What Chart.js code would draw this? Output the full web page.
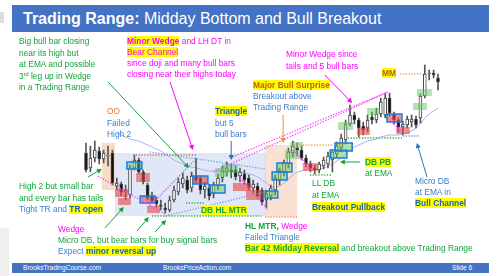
<!DOCTYPE html>
<html>
<head>
<meta charset="utf-8">
<script src="https://cdn.jsdelivr.net/npm/chart.js@4.4.1/dist/chart.umd.min.js"></script>
<style>
  body { margin: 0; background: #fff; width: 499px; height: 276px; overflow: hidden; position: relative;
         font-family: "Liberation Sans", Arial, sans-serif; }
  #chart { position: absolute; left: 0; top: 0; }
  .t { position: absolute; white-space: nowrap; font-size: 8.4px; line-height: 11.5px; }
  .b { font-weight: bold; }
  .hl { background: #ffff00; }
  .g { color: #12a43c; }
  .m { color: #ff00ff; }
  .bl { color: #3a80d0; }
  .db { color: #1a62b6; }
  .or { color: #e07a3a; }
  .br { color: #c0600c; }
  sup { font-size: 5.5px; line-height: 0; vertical-align: 3px; }
  #title { position: absolute; left: 12px; top: 5px; width: 477px; height: 27px; background: #4472c4;
           color: #fff; font-size: 16px; line-height: 28px; box-sizing: border-box; padding-left: 11px; white-space: nowrap; }
  #footer { position: absolute; left: 12px; top: 263px; width: 477px; height: 10px; background: #4472c4; }
  .f { position: absolute; top: 263px; color: #fff; font-size: 6.6px; line-height: 10px; white-space: nowrap; }
</style>
</head>
<body>
<canvas id="chart" width="499" height="276"></canvas>

<div style="position:absolute;left:0;top:12px;width:4px;height:11px;background:#ddd"></div>
<div style="position:absolute;left:0;top:228px;width:9px;height:48px;background:#f0f0f0"></div>
<div id="title"><b>Trading Range:</b> Midday Bottom and Bull Breakout</div>
<div id="footer"></div>
<div class="f" style="left:23px">BrooksTradingCourse.com</div>
<div class="f" style="left:163px">BrooksPriceAction.com</div>
<div class="f" style="left:452px">Slide 6</div>

<div class="t g" style="left:19px;top:36px;line-height:11.6px">Big bull bar closing<br>near its high but<br>at EMA and possible<br>3<sup>rd</sup> leg up in Wedge<br>in a Trading Range</div>
<div class="t m" style="left:127px;top:35.5px;line-height:11.1px"><span class="hl b">Minor Wedge</span> and LH DT in<br><span class="hl">Bear Channel</span><br>since doji and many bull bars<br>closing near their highs today</div>
<div class="t" style="left:107px;top:106px;line-height:11.5px"><span class="or">OO</span><br><span class="bl">Failed<br>High 2</span></div>
<div class="t bl" style="left:215px;top:106px;line-height:11.5px"><span class="hl b db">Triangle</span><br>but 5<br>bull bars</div>
<div class="t m" style="left:286px;top:48px;line-height:12px">Minor Wedge since<br>tails and 5 bull bars</div>
<div class="t" style="left:253px;top:80px;line-height:11px"><span class="hl b br">Major Bull Surprise</span><br><span class="bl">Breakout above<br>Trading Range</span></div>
<div class="t b br" style="left:382px;top:68px"><span class="hl">MM</span></div>
<div class="t g" style="left:19px;top:181px;line-height:11.5px">High 2 but small bar<br>and every bar has tails<br><span class="bl">Tight TR and </span><span class="hl b db">TR open</span></div>
<div class="t" style="left:58px;top:224px;line-height:11px"><span class="m">Wedge</span><br><span class="g">Micro DB, but bear bars for buy signal bars</span><br><span class="bl">Expect </span><span class="hl b db">minor reversal up</span></div>
<div class="t b g" style="left:201px;top:205px"><span class="hl">DB HL MTR</span></div>
<div class="t" style="left:245px;top:221px;line-height:11px"><span class="b g">HL MTR, </span><span class="m">Wedge</span><br><span class="bl">Failed Triangle</span><br><span class="hl b g">Bar 42 Midday Reversal</span><span class="g"> and breakout above Trading Range</span></div>
<div class="t g" style="left:312px;top:177px;line-height:12px">LL DB<br>at EMA<br><span class="hl b db">Breakout Pullback</span></div>
<div class="t g" style="left:365px;top:157px;line-height:11px"><span class="hl b">DB PB</span><br>at EMA</div>
<div class="t bl" style="left:415px;top:176px;line-height:11px">Micro DB<br>at EMA in<br><span class="hl b db">Bull Channel</span></div>

<script>
// 5 minute bars of the day (price units are arbitrary points)
const opens  = [147,132,142,149,141,144,147,114,116,108,105,132,140,128,115,104,100,95,92,90,
                100,108,116,120,112,124,122,110,112,106,114,122,128,130,130,124,126,122,112,114,
                110,100,104,110,120,128,136,147,152,150,142,136,132,130,134,136,140,146,152,160,
                176,185,180,174,172,183,180,186,185,202,186,180,173,175,178,181,182,204,226,227,222];
const highs  = [157,154,159,153,150,154,150,122,118,115,135,145,142,130,117,108,103,100,97,104,
                114,122,127,124,128,142,124,118,116,118,126,134,138,136,134,132,130,125,120,117,
                112,110,115,125,132,140,152,159,157,154,145,139,135,138,143,148,150,158,166,180,
                195,188,182,178,185,188,192,202,207,207,188,182,179,184,185,184,206,235,230,230,226];
const lows   = [128,128,138,136,137,134,115,110,104,100,102,130,126,116,100,97,93,90,87,88,
                98,105,112,107,108,117,106,102,100,102,110,118,124,122,120,118,116,110,107,102,
                95,92,100,105,115,124,132,143,144,140,133,128,126,127,131,132,128,142,148,156,
                174,176,163,165,168,176,177,183,182,184,176,168,165,172,173,172,177,202,220,222,210];
const closes = [130,142,150,141,147,145,117,117,108,110,132,140,128,118,102,99,96,94,90,100,
                110,118,122,110,124,120,110,114,104,115,122,129,132,128,123,128,120,112,116,104,
                98,106,112,122,130,138,148,154,150,142,136,131,130,136,140,144,148,154,162,176,
                185,180,172,170,180,180,186,198,202,187,180,173,176,181,181,175,204,226,227,225,218];
// 20 bar EMA as drawn on the chart (starts after the open)
const emaValues = [null,null,null,null,null,null,null,167,165,163,161,160,159,157,155,153,151,149,146,143,
                140,138,136,134,133,132,131,130,129,129,129,129,129,129,128,128,127,126,125,123,
                120,117,114,113,114,117,121,125,128,129,130,130,130,131,132,134,136,139,142,146,
                150,153,155,157,159,160,161,163,164,165,165,165,166,167,169,172,176,182,186,189,192];
const barLabels = opens.map((o, i) => String(i + 1));

// annotation layers, in bar number (0 based) and price
const zones = [
  [6.6, 40.9, 147, 84, 'rgba(185,198,238,0.42)'],
  [3.6, 6.6, 157, 110, 'rgba(240,185,150,0.5)'],
  [40.7, 48.0, 155, 83, 'rgba(240,185,150,0.42)']
];
const boxes = [
  [6.6, 9.5, 111, 103, 'r'], [7.3, 10.2, 102, 95, 'r'], [9.3, 12.7, 138, 131, 'bg'],
  [11.4, 14.5, 127, 118, 'r'], [12.3, 15.7, 104, 97, 'br'], [13.9, 16.8, 94, 87, 'r'],
  [24.3, 27.7, 124, 116, 'br'], [28.2, 31.6, 115, 107, 'bg'], [29.3, 32.3, 132, 123, 'g'],
  [30.9, 34.5, 136, 127, 'g'], [33.4, 37.5, 117, 109, 'r'], [36.4, 40.2, 110, 100, 'r'],
  [40.7, 43.6, 109, 102, 'bg'], [42.3, 45.7, 128, 120, 'bg'], [43.4, 46.8, 137, 128, 'bg'],
  [45.2, 48.6, 150, 141, 'g'], [46.4, 49.3, 158, 152, 'g'], [49.3, 52.7, 137, 129, 'r'],
  [55.5, 59.3, 150, 142, 'bg'], [56.6, 60.5, 157, 149, 'bg'], [57.3, 60.7, 178, 170, 'g'],
  [61.6, 64.5, 172, 165, 'r'], [63.9, 66.8, 192, 185, 'g'], [68.4, 71.8, 186, 178, 'br'],
  [70.5, 73.6, 173, 166, 'r'], [74.3, 77.5, 197, 190, 'g'], [75.2, 78.6, 211, 204, 'g']
];
const dottedLines = [
  [10.7, 145, 25.2, 145, '#f06060'], [15, 84, 40, 84, '#3cb043'], [22.7, 97, 26.8, 97, '#3cb043'],
  [40.7, 83, 48, 83, '#f0a060'], [48, 155, 56.1, 155, '#f0a060'], [50.9, 125, 55.9, 125, '#3cb043'],
  [59.5, 162, 71.8, 162, '#3cb043'], [72, 164, 75.9, 164, '#5a9ad8'], [71.4, 226, 76.6, 226, '#f0a060'],
  [14.5, 148, 40.7, 131, '#6aa8e0'], [18, 84, 40.7, 108, '#6aa8e0'],
  [2.7, 124, 18, 86, '#ff40ff'], [14.1, 92, 25.2, 142, '#ff40ff'], [35, 122, 41.4, 90, '#ff40ff'],
  [28.9, 128, 68.6, 208, '#ff40ff'], [32.7, 142, 68.6, 208, '#ff40ff'],
  [47, 150, 51.4, 130, '#ff40ff'], [69.5, 178, 71.8, 168, '#ff40ff']
];
const arrows = [
  [5, 218, 23.4, 132, '#12a43c'], [19.1, 218, 24.3, 150, '#ff00ff'], [33, 159, 33, 140, '#2a70c0'],
  [0.45, 123, 3.6, 131, '#12a43c'], [4.3, 72, 8.6, 93, '#12a43c'], [11.6, 69, 14.3, 83, '#12a43c'],
  [15.7, 68, 18.2, 80, '#12a43c'], [44.8, 185, 44.8, 157, '#f0902a'], [54.3, 225, 60.5, 197, '#ff00ff'],
  [62.3, 138, 57.7, 138, '#12a43c'], [77.5, 123, 75.2, 157, '#2a70c0']
];

const annotationLayer = {
  id: 'annotationLayer',
  beforeDatasetsDraw(chart) {
    const { ctx, scales: { x, y } } = chart;
    ctx.save();
    zones.forEach(([i1, i2, p1, p2, c]) => {
      ctx.fillStyle = c;
      ctx.fillRect(x.getPixelForValue(i1), y.getPixelForValue(p1),
        x.getPixelForValue(i2) - x.getPixelForValue(i1), y.getPixelForValue(p2) - y.getPixelForValue(p1));
    });
    ctx.restore();
  },
  afterDatasetsDraw(chart) {
    const { ctx, scales: { x, y } } = chart;
    ctx.save();
    boxes.forEach(([i1, i2, p1, p2, k]) => {
      const x1 = x.getPixelForValue(i1), x2 = x.getPixelForValue(i2);
      const y1 = y.getPixelForValue(p1), y2 = y.getPixelForValue(p2);
      ctx.fillStyle = k.endsWith('g') ? 'rgba(100,200,100,0.5)' : 'rgba(232,70,70,0.6)';
      ctx.fillRect(x1, y1, x2 - x1, y2 - y1);
      if (k[0] === 'b' && k.length === 2) {
        ctx.strokeStyle = '#1a7ee0';
        ctx.lineWidth = 1.5;
        ctx.strokeRect(x1, y1, x2 - x1, y2 - y1);
      }
    });
    ctx.lineWidth = 1.3;
    ctx.setLineDash([1.3, 1.5]);
    dottedLines.forEach(([i1, p1, i2, p2, c]) => {
      ctx.strokeStyle = c;
      ctx.beginPath();
      ctx.moveTo(x.getPixelForValue(i1), y.getPixelForValue(p1));
      ctx.lineTo(x.getPixelForValue(i2), y.getPixelForValue(p2));
      ctx.stroke();
    });
    ctx.setLineDash([]);
    ctx.lineWidth = 1;
    arrows.forEach(([i1, p1, i2, p2, c]) => {
      const ax = x.getPixelForValue(i1), ay = y.getPixelForValue(p1);
      const bx = x.getPixelForValue(i2), by = y.getPixelForValue(p2);
      const a = Math.atan2(by - ay, bx - ax);
      ctx.strokeStyle = c;
      ctx.fillStyle = c;
      ctx.beginPath();
      ctx.moveTo(ax, ay);
      ctx.lineTo(bx - 4 * Math.cos(a), by - 4 * Math.sin(a));
      ctx.stroke();
      ctx.beginPath();
      ctx.moveTo(bx, by);
      ctx.lineTo(bx - 5 * Math.cos(a) + 2.6 * Math.sin(a), by - 5 * Math.sin(a) - 2.6 * Math.cos(a));
      ctx.lineTo(bx - 5 * Math.cos(a) - 2.6 * Math.sin(a), by - 5 * Math.sin(a) + 2.6 * Math.cos(a));
      ctx.closePath();
      ctx.fill();
    });
    ctx.restore();
  }
};

new Chart(document.getElementById('chart'), {
  type: 'bar',
  data: {
    labels: barLabels,
    datasets: [
      {
        type: 'line', label: 'EMA', data: emaValues, borderColor: '#a8acf2', borderWidth: 1,
        pointRadius: 0, tension: 0.3, order: 3
      },
      {
        label: 'range', data: lows.map((l, i) => [l, highs[i]]), backgroundColor: '#555',
        barThickness: 1, grouped: false, order: 2
      },
      {
        label: 'body', data: opens.map((o, i) => [o, closes[i]]),
        backgroundColor: closes.map((c, i) => c > opens[i] ? '#ffffff' : '#111111'),
        borderColor: '#444', borderWidth: 1, borderSkipped: false,
        barThickness: 3, grouped: false, order: 1
      }
    ]
  },
  options: {
    responsive: false,
    animation: false,
    layout: { padding: { left: 83.8, right: 58.8, top: 40, bottom: 36 } },
    scales: {
      x: { display: false, offset: true },
      y: { display: false, min: 60, max: 260 }
    },
    plugins: { legend: { display: false }, tooltip: { enabled: false } }
  },
  plugins: [annotationLayer]
});
</script>
</body>
</html>
